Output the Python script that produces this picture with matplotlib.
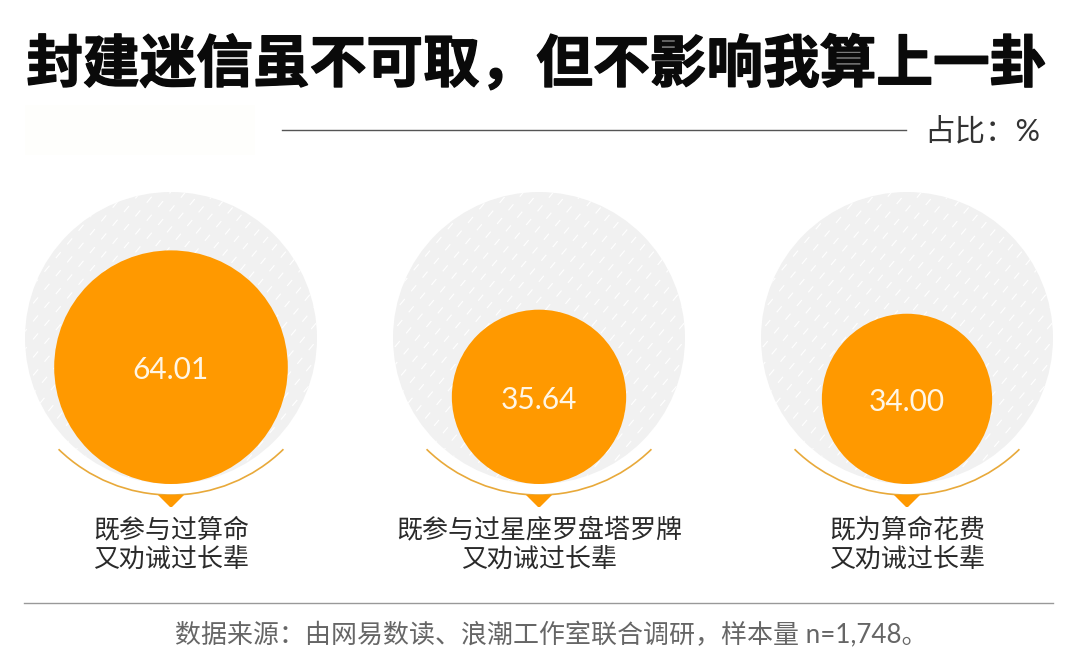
import numpy as np
import matplotlib.pyplot as plt
from matplotlib.patches import Circle, Arc, Polygon, Rectangle
import matplotlib.patheffects as pe

# Dados
valores = [64.01, 35.64, 34.00]
total = 100
rotulos = ['既参与过算命\n又劝诫过长辈',
           '既参与过星座罗盘塔罗牌\n又劝诫过长辈',
           '既为算命花费\n又劝诫过长辈']
titulo = '封建迷信虽不可取，但不影响我算上一卦'
unidade = '占比：%'
fonte = '数据来源：由网易数读、浪潮工作室联合调研，样本量 n=1,748。'

laranja = '#FF9900'
cinza = '#F1F1F1'
familia = ['Lato', 'Noto Sans CJK SC']

fig = plt.figure(figsize=(10.8, 6.71), dpi=100)
ax = fig.add_axes([0, 0, 1, 1])
ax.set_xlim(0, 1080)
ax.set_ylim(671, 0)
ax.axis('off')

# Titulo e linhas
ax.text(536, 65, titulo, fontsize=40.8, fontweight='bold', ha='center', va='center',
        color='#0A0A0A', family='Noto Sans CJK SC',
        path_effects=[pe.withStroke(linewidth=1.0, foreground='#0A0A0A')])
ax.add_patch(Rectangle((25, 105), 230, 50, color='#FEFEFC', lw=0))
ax.plot([282, 906], [130, 130], color='#555555', lw=1)
ax.text(982, 131, unidade, fontsize=22, ha='center', va='center', color='#333333', family=familia)

# Circulos: area proporcional ao valor
centros = [171, 539, 907]
base = 484
k = 14.6
for cx, v, rot in zip(centros, valores, rotulos):
    R = k * np.sqrt(total)
    r = k * np.sqrt(v)
    fundo = Circle((cx, 338), R, color=cinza, lw=0, zorder=1)
    ax.add_patch(fundo)
    # textura de tracinhos brancos
    for d in np.arange(-220, 220, 11.5):
        t = np.array([-170, 170])
        x = cx + d * 0.77 + t * 0.64
        y = 338 + d * 0.64 - t * 0.77
        lin, = ax.plot(x, y, color='white', lw=0.8, dashes=(7, 9), zorder=2)
        lin.set_clip_path(fundo)
    ax.add_patch(Circle((cx, base - r), r, color=laranja, lw=0, zorder=3))
    ax.text(cx, base - r + 3, f'{v:.2f}', fontsize=21.5, color='#FFF6E5', ha='center', va='center',
            family='Lato', zorder=4)
    # arco e seta
    ax.add_patch(Arc((cx, 334), 322, 322, theta1=45.7, theta2=134.3, color='#E8A93A', lw=1.2, zorder=4))
    ax.add_patch(Polygon([(cx - 13, 495), (cx + 13, 495), (cx + 1, 507), (cx - 1, 507)],
                         color=laranja, lw=0, zorder=4))
    ax.text(cx, 545, rot, fontsize=18.7, color='#2A2A2A', ha='center', va='center',
            linespacing=1.25, family=familia)

# Rodape
ax.plot([24, 1053], [603, 603], color='#999999', lw=1)
ax.text(551, 635, fonte, fontsize=18.7, color='#666666', ha='center', va='center', family=familia)

fig.savefig('out.png', dpi=100, facecolor='white')
